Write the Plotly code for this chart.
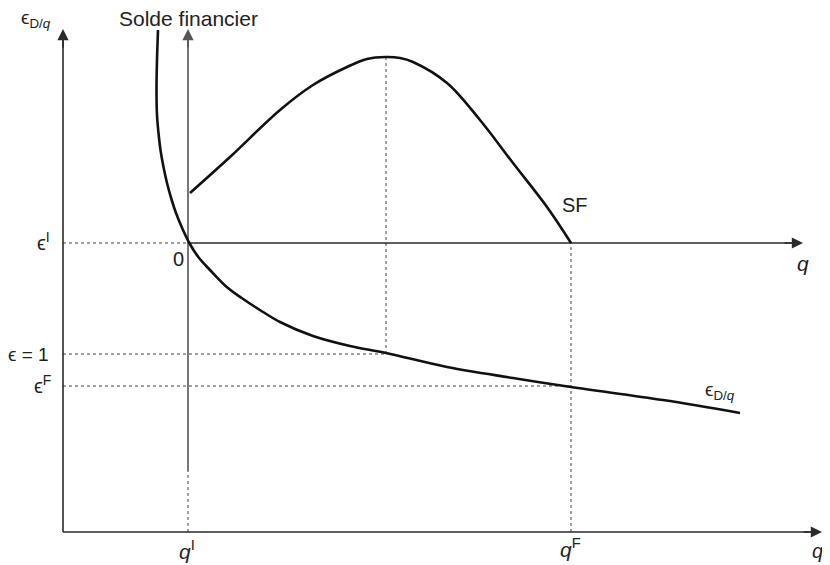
import plotly.graph_objects as go

# Schematic coordinates (outer origin at 0,0)
q_I, q_peak, q_F = 125, 323, 508
eps_I, eps_1, eps_F = 289, 178, 146
x_end, y_end = 759, 503          # outer axes ends
inner_x_end = 740                # inner horizontal axis end
inner_y_bottom = 61              # inner vertical axis solid start

# Solde financier curve (SF)
sf_q = [127, 167, 217, 250, 284, 304, 323, 337, 350, 384, 417, 450, 484, 508]
sf_v = [339, 375, 422, 447, 465, 473, 475, 474, 470, 449, 412, 369, 325, 289]

# Elasticity curve eps_D/q
el_q = [95, 94, 93.5, 94, 95.5, 97.5, 100.5, 104, 108.7, 113, 118.7, 126.3, 135.3, 147,
        163.7, 178.7, 200, 217, 250, 287, 323, 384, 450, 508, 600, 677]
el_v = [502, 472, 442, 417, 399, 382, 365, 349, 332, 319, 305, 289, 275, 262,
        245, 234, 220, 210, 196, 186, 179, 165, 154, 145, 132, 119]

FONT = "Liberation Sans, Arial, sans-serif"
AX = "#2a2a2a"
fig = go.Figure()

def line(xs, ys, color=AX, width=1.5, dash=None, shape="linear"):
    fig.add_trace(go.Scatter(x=xs, y=ys, mode="lines", hoverinfo="skip",
                             line=dict(color=color, width=width, dash=dash, shape=shape),
                             showlegend=False))

# dotted guides
line([0, q_I], [eps_I, eps_I], color="#444", width=1, dash="dot")
line([0, q_peak], [eps_1, eps_1], color="#444", width=1, dash="dot")
line([0, q_F], [eps_F, eps_F], color="#444", width=1, dash="dot")
line([q_peak, q_peak], [eps_1, sf_v[6]], color="#444", width=1, dash="dot")
line([q_F, q_F], [0, eps_I], color="#444", width=1, dash="dot")
line([q_I, q_I], [0, inner_y_bottom], color="#444", width=1, dash="dot")

# axes lines
line([0, 0], [0, y_end - 6], color=AX, width=1.6)
line([0, x_end - 6], [0, 0], color=AX, width=1.6)
line([q_I, q_I], [inner_y_bottom, y_end - 6], color="#555", width=1.6)
line([q_I, inner_x_end - 6], [eps_I, eps_I], color=AX, width=1.6)

# curves
line(sf_q, sf_v, color="#111", width=2.6, shape="spline")
line(el_q, el_v, color="#111", width=2.6, shape="spline")

# arrowheads
def arrow(x, y, ax, ay, color=AX):
    fig.add_annotation(x=x, y=y, ax=ax, ay=ay, xref="x", yref="y", axref="x", ayref="y",
                       showarrow=True, arrowhead=2, arrowsize=1.4, arrowwidth=1.6,
                       arrowcolor=color, text="", font=dict(size=12))

arrow(0, y_end, 0, y_end - 20)
arrow(x_end, 0, x_end - 20, 0)
arrow(q_I, y_end, q_I, y_end - 20, color="#555")
arrow(inner_x_end, eps_I, inner_x_end - 20, eps_I)

def label(x, y, text, size=20, xanchor="center", yanchor="middle"):
    fig.add_annotation(x=x, y=y, xref="x", yref="y", text=text, showarrow=False,
                       font=dict(family=FONT, size=size, color="#222"),
                       xanchor=xanchor, yanchor=yanchor)

label(q_I, 514, "Solde financier", size=21)
label(-10, 513, "ϵ<sub>D/<i>q</i></sub>", size=19, xanchor="right")
label(-11, eps_I + 2, "ϵ<sup>I</sup>", size=20, xanchor="right")
label(-12, eps_1, "ϵ = 1", size=19, xanchor="right")
label(-10, eps_F + 2, "ϵ<sup>F</sup>", size=20, xanchor="right")
label(115, 273, "0", size=20)
label(inner_x_end, 269, "<i>q</i>", size=21)
label(q_F + 4, 327, "SF", size=20)
label(657, 141, "ϵ<sub>D/<i>q</i></sub>", size=19)
label(q_I - 1, -18, "<i>q</i><sup>I</sup>", size=21)
label(q_F - 1, -16, "<i>q</i><sup>F</sup>", size=21)
label(x_end - 5, -19, "<i>q</i>", size=20)

# page body has an 8px margin: the figure is sized/ranged so the drawing lands
# at the intended window position and fits inside the 830x565 window
fig.update_layout(width=822, height=557, margin=dict(l=0, r=0, t=0, b=0),
                  plot_bgcolor="white", paper_bgcolor="white",
                  xaxis=dict(range=[-55, 767], visible=False, fixedrange=True),
                  yaxis=dict(range=[-33, 524], visible=False, fixedrange=True),
                  showlegend=False)

fig.write_html("out.html")
